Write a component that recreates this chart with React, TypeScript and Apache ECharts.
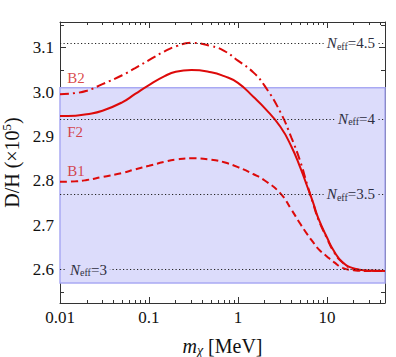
import React, { useEffect, useRef } from 'react';
import * as echarts from 'echarts';

// ---- data ----
const MASS_MEV = [0.01, 0.015, 0.02, 0.03, 0.05, 0.07, 0.1, 0.15, 0.2, 0.3, 0.5, 0.7, 1, 1.5, 2, 3, 4, 5, 6, 7, 8, 10, 12, 15, 20, 30, 45];
const DH_F2 = [2.946, 2.947, 2.950, 2.958, 2.977, 2.996, 3.016, 3.036, 3.046, 3.050, 3.045, 3.036, 3.021, 2.989, 2.964, 2.922, 2.877, 2.831, 2.788, 2.751, 2.716, 2.673, 2.642, 2.617, 2.603, 2.598, 2.597];
const DH_B2 = [2.995, 2.998, 3.003, 3.018, 3.038, 3.054, 3.072, 3.092, 3.103, 3.111, 3.104, 3.093, 3.071, 3.044, 3.014, 2.955, 2.897, 2.845, 2.792, 2.749, 2.714, 2.671, 2.640, 2.616, 2.602, 2.598, 2.597];
const DH_B1 = [2.798, 2.799, 2.802, 2.809, 2.818, 2.826, 2.834, 2.843, 2.848, 2.851, 2.848, 2.842, 2.831, 2.815, 2.801, 2.772, 2.735, 2.704, 2.680, 2.662, 2.647, 2.630, 2.617, 2.604, 2.599, 2.597, 2.597];

const NEFF_VALUES = ['3', '3.5', '4', '4.5'];
const NEFF_DH = [2.598, 2.770, 2.942, 3.112];
const BAND_DH = [2.57, 3.01];

const CURVE_NAMES = ['B2', 'F2', 'B1'];
const CURVE_LABEL_MASS = [0.0119, 0.0119, 0.0119];
const CURVE_LABEL_DH = [3.031, 2.911, 2.823];

const X_MIN = 0.01;
const X_MAX = 45;
const Y_MIN = 2.525;
const Y_MAX = 3.158;
const X_MAJOR = [0.01, 0.1, 1, 10];
const X_MINOR = [0.02, 0.03, 0.04, 0.05, 0.06, 0.07, 0.08, 0.09, 0.2, 0.3, 0.4, 0.5, 0.6, 0.7, 0.8, 0.9, 2, 3, 4, 5, 6, 7, 8, 9, 20, 30, 40];
const Y_MAJOR = [2.6, 2.7, 2.8, 2.9, 3.0, 3.1];
const Y_MINOR = [2.55, 2.65, 2.75, 2.85, 2.95, 3.05, 3.15];

const SERIF = '"Liberation Serif", "Times New Roman", serif';
const RED = '#dd0a0a';
const AXIS = '#333333';
const NEFF_COLOR = '#2e2e40';
const BAND_FILL = '#dcdcfb';

export default function App() {
  const ref = useRef<HTMLDivElement>(null);

  useEffect(() => {
    if (!ref.current) return;
    const chart = echarts.init(ref.current, null, { renderer: 'svg' });

    const pairs = (ys: number[]) => MASS_MEV.map((m, i) => [m, ys[i]]);

    const neffRich = {
      n: { fontFamily: SERIF, fontStyle: 'italic', fontSize: 15, color: NEFF_COLOR, lineHeight: 16 },
      s: { fontFamily: SERIF, fontSize: 10, color: NEFF_COLOR, lineHeight: 16, verticalAlign: 'bottom', padding: [5, 0, 0, 0] },
      t: { fontFamily: SERIF, fontSize: 15, color: NEFF_COLOR, lineHeight: 16 },
    };

    const neffLines = NEFF_VALUES.map((v, i) => {
      const leftSide = v === '3';
      const inBand = NEFF_DH[i] >= BAND_DH[0] && NEFF_DH[i] <= BAND_DH[1];
      return {
        yAxis: NEFF_DH[i],
        label: {
          show: true,
          position: leftSide ? 'insideStart' : 'insideEnd',
          distance: 7,
          formatter: `{n|N}{s|eff}{t|=${v}}`,
          backgroundColor: inBand ? BAND_FILL : '#ffffff',
          padding: [0, 3, 0, 3],
          rich: neffRich,
        },
      };
    });

    const xAxisBase = {
      type: 'log',
      min: X_MIN,
      max: X_MAX,
      logBase: 10,
      splitLine: { show: false },
      axisLine: { show: true, lineStyle: { color: AXIS, width: 1 } },
    };
    const yAxisBase = {
      type: 'value',
      min: Y_MIN,
      max: Y_MAX,
      splitLine: { show: false },
      axisLine: { show: true, lineStyle: { color: AXIS, width: 1 } },
    };

    const curveCommon = {
      type: 'line',
      smooth: 0.5,
      showSymbol: false,
    };

    const option: any = {
      animation: false,
      backgroundColor: '#ffffff',
      grid: { left: 60, right: 11, top: 22, bottom: 54, outerBoundsMode: 'none', containLabel: false },
      xAxis: [
        {
          ...xAxisBase,
          position: 'bottom',
          axisTick: { show: true, inside: true, length: 6, customValues: X_MAJOR, lineStyle: { color: AXIS } },
          axisLabel: {
            show: true,
            customValues: X_MAJOR,
            margin: 6,
            fontFamily: SERIF,
            fontSize: 17,
            color: '#111',
            formatter: (v: number) => String(+Number(v).toPrecision(3)),
          },
          name: '{i|m}{sub|χ}{a| [MeV]}',
          nameLocation: 'middle',
          nameGap: 32,
          nameTextStyle: {
            rich: {
              i: { fontFamily: SERIF, fontStyle: 'italic', fontSize: 20, color: '#111', lineHeight: 22 },
              sub: { fontFamily: SERIF, fontStyle: 'italic', fontSize: 14, color: '#111', lineHeight: 22, verticalAlign: 'bottom', padding: [6, 0, 0, 0] },
              a: { fontFamily: SERIF, fontSize: 20, color: '#111', lineHeight: 22 },
            },
          },
        },
        {
          ...xAxisBase,
          position: 'bottom',
          axisLine: { show: false },
          axisTick: { show: true, inside: true, length: 3, customValues: X_MINOR, lineStyle: { color: AXIS } },
          axisLabel: { show: false },
        },
        {
          ...xAxisBase,
          position: 'top',
          axisTick: { show: true, inside: true, length: 6, customValues: X_MAJOR, lineStyle: { color: AXIS } },
          axisLabel: { show: false },
        },
        {
          ...xAxisBase,
          position: 'top',
          axisLine: { show: false },
          axisTick: { show: true, inside: true, length: 3, customValues: X_MINOR, lineStyle: { color: AXIS } },
          axisLabel: { show: false },
        },
      ],
      yAxis: [
        {
          ...yAxisBase,
          position: 'left',
          axisTick: { show: true, inside: true, length: 6, customValues: Y_MAJOR, lineStyle: { color: AXIS } },
          axisLabel: {
            show: true,
            customValues: Y_MAJOR,
            margin: 6,
            fontFamily: SERIF,
            fontSize: 17,
            color: '#111',
            formatter: (v: number) => Number(v).toFixed(1),
          },
          name: '{a|D/H (×10}{sup|5}{a|)}',
          nameLocation: 'middle',
          nameGap: 34,
          nameTextStyle: {
            rich: {
              a: { fontFamily: SERIF, fontSize: 20, color: '#111', lineHeight: 24 },
              sup: { fontFamily: SERIF, fontSize: 13, color: '#111', lineHeight: 24, verticalAlign: 'top', padding: [0, 0, 8, 0] },
            },
          },
        },
        {
          ...yAxisBase,
          position: 'left',
          axisLine: { show: false },
          axisTick: { show: true, inside: true, length: 4, customValues: Y_MINOR, lineStyle: { color: AXIS } },
          axisLabel: { show: false },
        },
        {
          ...yAxisBase,
          position: 'right',
          axisTick: { show: true, inside: true, length: 6, customValues: Y_MAJOR, lineStyle: { color: AXIS } },
          axisLabel: { show: false },
        },
        {
          ...yAxisBase,
          position: 'right',
          axisLine: { show: false },
          axisTick: { show: true, inside: true, length: 4, customValues: Y_MINOR, lineStyle: { color: AXIS } },
          axisLabel: { show: false },
        },
      ],
      series: [
        {
          name: 'band',
          type: 'line',
          data: [],
          z: 1,
          markArea: {
            silent: true,
            itemStyle: { color: BAND_FILL, borderColor: '#a9a9f3', borderWidth: 1.5 },
            data: [[{ yAxis: BAND_DH[0] }, { yAxis: BAND_DH[1] }]],
          },
        },
        {
          name: 'neff',
          type: 'line',
          data: [],
          z: 2,
          markLine: {
            silent: true,
            symbol: ['none', 'none'],
            lineStyle: { color: '#222', width: 1, type: [1.2, 2.3] },
            data: neffLines,
          },
        },
        {
          ...curveCommon,
          name: 'B1',
          data: pairs(DH_B1),
          z: 3,
          lineStyle: { color: RED, width: 2, type: [7, 4] },
        },
        {
          ...curveCommon,
          name: 'B2',
          data: pairs(DH_B2),
          z: 3,
          lineStyle: { color: RED, width: 2, type: [9, 4, 2, 4] },
        },
        {
          ...curveCommon,
          name: 'F2',
          data: pairs(DH_F2),
          z: 4,
          lineStyle: { color: RED, width: 2 },
        },
        {
          name: 'labels',
          type: 'scatter',
          symbolSize: 1,
          itemStyle: { color: 'rgba(0,0,0,0)' },
          z: 5,
          label: {
            show: true,
            position: 'right',
            distance: 0,
            formatter: '{b}',
            fontFamily: SERIF,
            fontSize: 15,
            color: '#d01818',
          },
          data: CURVE_NAMES.map((n, i) => ({ name: n, value: [CURVE_LABEL_MASS[i], CURVE_LABEL_DH[i]] })),
        },
      ],
    };

    chart.setOption(option);
    return () => chart.dispose();
  }, []);

  return <div ref={ref} style={{ position: 'fixed', left: 0, top: 0, width: 396, height: 357 }} />;
}
